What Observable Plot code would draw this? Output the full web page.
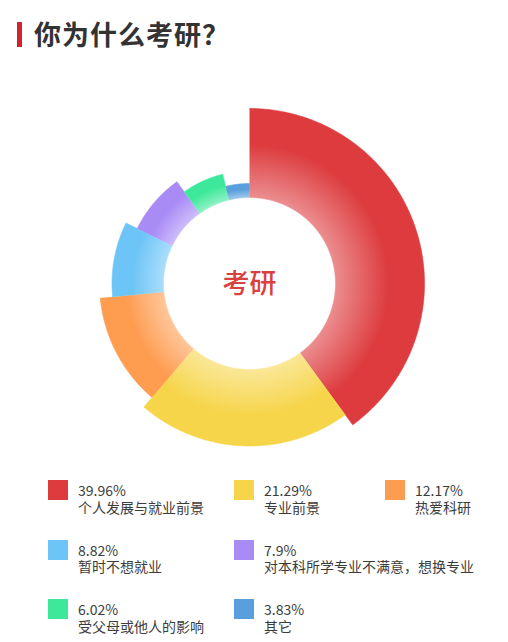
<!DOCTYPE html>
<html>
<head>
<meta charset="utf-8">
<script src="https://cdn.jsdelivr.net/npm/d3@7"></script>
<script src="https://cdn.jsdelivr.net/npm/@observablehq/plot@0.6"></script>
<style>
  html, body { margin: 0; padding: 0; background: #fff; }
  body { width: 508px; height: 642px; position: relative; overflow: hidden;
         font-family: "Noto Sans CJK SC", "Noto Sans", sans-serif; }
  #bar { position: absolute; left: 17px; top: 22px; width: 5px; height: 25px; background: #d2232e; }
  #title { position: absolute; left: 34px; top: 19px; height: 30px; line-height: 30px;
           font-size: 27px; font-weight: bold; color: #333; letter-spacing: 1px; white-space: nowrap; }
  #chart { position: absolute; left: 0; top: 60px; width: 508px; height: 410px; }
  #legend { position: absolute; left: 48px; top: 480px; width: 440px;
            display: grid; grid-template-columns: 186px 151px 103px; grid-auto-rows: 59.5px; }
  .item { position: relative; }
  .sw { position: absolute; left: 0; top: 0; width: 20px; height: 20px; }
  .lt { position: absolute; left: 30px; top: 2px; font-size: 14px; color: #3c3c3c; white-space: nowrap; }
  .lt div { height: 16.5px; line-height: 16.5px; overflow: visible; }
</style>
</head>
<body>
<div id="bar"></div>
<div id="title">你为什么考研？</div>
<div id="chart"></div>
<div id="legend"></div>
<script>
// ---- data ----
const labels = ["个人发展与就业前景", "专业前景", "热爱科研", "暂时不想就业", "对本科所学专业不满意，想换专业", "受父母或他人的影响", "其它"];
const values = [39.96, 21.29, 12.17, 8.82, 7.9, 6.02, 3.83];
const colors = ["#dd3b3e", "#f6d54b", "#fe9c50", "#6dc5f7", "#a98bf6", "#3ee89b", "#5a9fdd"];
const centerLabel = "考研";

// ---- geometry (derived from data) ----
const innerR = 86;
const rankRadius = d3.scaleLinear().domain([0, values.length - 1]).range([175, 100]);
const total = d3.sum(values);
const angle = d3.scaleLinear().domain([0, total]).range([0, 2 * Math.PI]);
const cum = d3.cumsum(values);
const slices = values.map((v, i) => ({
  key: labels[i], i, value: v,
  a0: angle(cum[i] - v), a1: angle(cum[i]),
  r0: innerR, r1: rankRadius(i)
}));
function ring(s) {
  const pts = [];
  const n = Math.max(4, Math.ceil((s.a1 - s.a0) / (Math.PI / 360)));
  for (let k = 0; k <= n; k++) {
    const a = s.a0 + (s.a1 - s.a0) * k / n;
    pts.push({x: s.r1 * Math.sin(a), y: s.r1 * Math.cos(a), key: s.key});
  }
  for (let k = n; k >= 0; k--) {
    const a = s.a0 + (s.a1 - s.a0) * k / n;
    pts.push({x: s.r0 * Math.sin(a), y: s.r0 * Math.cos(a), key: s.key});
  }
  return pts;
}

const W = 508, H = 410, cx = 249, cy = 223;
const plot = Plot.plot({
  width: W, height: H,
  margin: 0,
  x: {domain: [-cx, W - cx], axis: null},
  y: {domain: [-(H - cy), cy], axis: null},
  marks: [
    ...slices.map(s => Plot.line(ring(s), {
      x: "x", y: "y", curve: "linear",
      fill: `url(#grad${s.i})`, stroke: `url(#grad${s.i})`, strokeWidth: 0.6
    })),
    Plot.text([centerLabel], {x: 0, y: 0, text: d => d, fill: "#d94040", fontSize: 27, fontWeight: 500, dy: 1,
      fontFamily: "Noto Sans CJK SC", textAnchor: "middle"})
  ]
});

// radial gradients centred on the chart centre
const px = plot.scale("x").apply(0), py = plot.scale("y").apply(0);
const svgNS = "http://www.w3.org/2000/svg";
const defs = document.createElementNS(svgNS, "defs");
slices.forEach(s => {
  const g = document.createElementNS(svgNS, "radialGradient");
  g.setAttribute("id", "grad" + s.i);
  g.setAttribute("gradientUnits", "userSpaceOnUse");
  g.setAttribute("cx", px); g.setAttribute("cy", py); g.setAttribute("r", s.r1);
  const light = d3.interpolateRgb(colors[s.i], "#ffffff")(0.42);
  const stops = [[0, light], [s.r0 / s.r1, light], [(s.r0 + 0.6 * (s.r1 - s.r0)) / s.r1, colors[s.i]], [1, colors[s.i]]];
  stops.forEach(([o, c]) => {
    const st = document.createElementNS(svgNS, "stop");
    st.setAttribute("offset", o); st.setAttribute("stop-color", c);
    g.appendChild(st);
  });
  defs.appendChild(g);
});
plot.insertBefore(defs, plot.firstChild);
document.getElementById("chart").appendChild(plot);

// legend (grid flow; long items span two columns)
const lg = document.getElementById("legend");
labels.forEach((lab, i) => {
  const item = document.createElement("div");
  item.className = "item";
  const sw = document.createElement("div");
  sw.className = "sw"; sw.style.background = colors[i];
  const t = document.createElement("div");
  t.className = "lt";
  const l1 = document.createElement("div"); l1.textContent = values[i] + "%";
  const l2 = document.createElement("div"); l2.textContent = lab;
  t.appendChild(l1); t.appendChild(l2);
  item.appendChild(sw); item.appendChild(t);
  lg.appendChild(item);
  if (30 + t.getBoundingClientRect().width > 180) item.style.gridColumn = "span 2";
});
</script>
</body>
</html>
